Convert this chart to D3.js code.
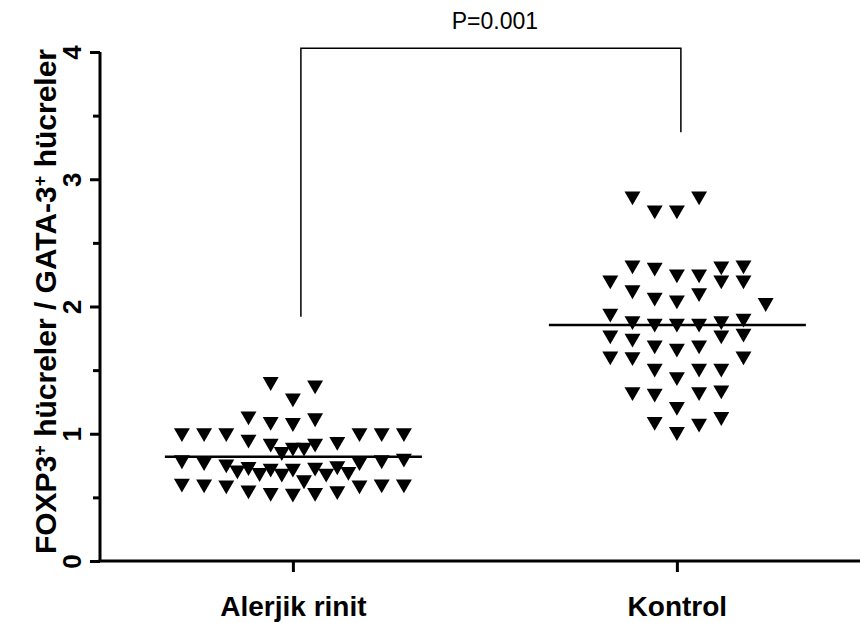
<!DOCTYPE html>
<meta charset="utf-8">
<title>FOXP3 / GATA-3</title>
<script src="https://cdn.jsdelivr.net/npm/d3@7"></script>
<style>
  body { margin: 0; background: #fff; }
  svg { font-family: "Liberation Sans", Arial, sans-serif; }
</style>
<body>
<svg></svg>
<script>
var width = 860,
    height = 623;

var groups = ["Alerjik rinit", "Kontrol"];

// column slot (half steps) and value
var alerjikCols = [-2, 2, 0, -4, -2, 0, 2, -10, -8, -6, 6, 8, 10, -4, -2, 2, 4, -1, 0, 1,
                   -10, -8, -6, 6, 8, 10, -5, -4, -3, -2, -1, 0, 2, 3, 4, 5, 1,
                   -10, -8, -6, 6, 8, 10, -4, -2, 0, 2, 4];
var alerjikVals = [1.409, 1.383, 1.281, 1.139, 1.095, 1.087, 1.124, 1.008, 1.008, 1.008, 1.008, 1.008, 1.008,
                   0.956, 0.925, 0.925, 0.938, 0.859, 0.894, 0.894,
                   0.794, 0.780, 0.762, 0.780, 0.794, 0.807,
                   0.715, 0.741, 0.694, 0.728, 0.689, 0.728, 0.736, 0.689, 0.747, 0.702, 0.637,
                   0.611, 0.605, 0.597, 0.597, 0.605, 0.605,
                   0.558, 0.537, 0.532, 0.537, 0.552];

var kontrolCols = [-4, 2, -2, 0, -4, -2, 0, 2, 4, 6, -6, 4, 6, -4, -2, 0, 2, 8, -6,
                   -4, -2, 0, 2, 4, 6, -6, -4, -2, 0, 2, 4, 6, -6, -4, 6,
                   -2, 2, 4, 0, -4, -2, 2, 4, 0, -2, 2, 4, 0];
var kontrolVals = [2.868, 2.868, 2.758, 2.758, 2.326, 2.308, 2.255, 2.255, 2.318, 2.326,
                   2.208, 2.208, 2.208, 2.130, 2.072, 2.051, 2.108, 2.030, 1.947,
                   1.888, 1.868, 1.868, 1.868, 1.888, 1.907,
                   1.776, 1.750, 1.697, 1.672, 1.697, 1.776, 1.789,
                   1.611, 1.605, 1.611,
                   1.514, 1.514, 1.514, 1.448,
                   1.330, 1.317, 1.330, 1.344, 1.213,
                   1.095, 1.082, 1.134, 1.016];

var medians = [0.82, 1.855];
var yTicks = [0, 1, 2, 3, 4];
var yMinor = [0.5, 1.5, 2.5, 3.5];
var pLabel = "P=0.001";
var bracket = [1.92, 4.03, 3.37]; // left end, top, right end

var svg = d3.select("svg")
    .attr("width", width)
    .attr("height", height);

var x = d3.scalePoint()
    .domain(groups)
    .range([100, 860])
    .padding(0.4896)
    .align(0.513);

var y = d3.scaleLinear()
    .domain([0, 4])
    .range([561, 52]);

var colStep = 11.1;

// y axis
var yAxis = svg.append("g")
    .attr("transform", "translate(100,0)")
    .call(d3.axisLeft(y).tickValues(yTicks).tickSize(10).tickSizeOuter(0).tickFormat(d3.format("d")));
yAxis.select(".domain").attr("stroke-width", 3).attr("d", "M0," + y(0) + "V" + y(4));
yAxis.selectAll(".tick line").attr("stroke-width", 3);
yAxis.selectAll(".tick text")
    .attr("x", 0).attr("y", 0).attr("dy", 0)
    .attr("transform", "translate(-19,0) rotate(-90)")
    .attr("text-anchor", "middle")
    .style("font-size", "26px")
    .style("font-weight", "bold")
    .style("font-family", "'Liberation Sans', Arial, sans-serif");

var yAxisMinor = svg.append("g")
    .attr("transform", "translate(100,0)")
    .call(d3.axisLeft(y).tickValues(yMinor).tickSize(7).tickFormat(""));
yAxisMinor.select(".domain").remove();
yAxisMinor.selectAll(".tick line").attr("stroke-width", 3);

// x axis
var xAxis = svg.append("g")
    .attr("transform", "translate(0," + y(0) + ")")
    .call(d3.axisBottom(x).tickSize(11).tickSizeOuter(0));
xAxis.select(".domain").attr("stroke-width", 3).attr("d", "M98.5,0H860");
xAxis.selectAll(".tick line").attr("stroke-width", 3);
xAxis.selectAll(".tick text")
    .attr("y", 55)
    .attr("dy", 0)
    .style("font-size", "28px")
    .style("font-weight", "bold")
    .style("font-family", "'Liberation Sans', Arial, sans-serif");

// y label
var ylab = svg.append("text")
    .attr("transform", "translate(56," + ((y(0) + y(4)) / 2 - 5) + ") rotate(-90)")
    .attr("text-anchor", "middle")
    .style("font-size", "30px")
    .style("font-weight", "bold");
ylab.append("tspan").text("FOXP3");
ylab.append("tspan").attr("dy", -10).style("font-size", "18px").text("+");
ylab.append("tspan").attr("dy", 10).text(" hücreler / GATA-3");
ylab.append("tspan").attr("dy", -10).style("font-size", "18px").text("+");
ylab.append("tspan").attr("dy", 10).text(" hücreler");

// points
var tri = d3.symbol().type(d3.symbolTriangle).size(110);

function drawGroup(name, cols, vals) {
  svg.append("g").selectAll("path")
    .data(vals)
    .enter().append("path")
    .attr("d", tri)
    .attr("fill", "#000")
    .attr("transform", function(d, i) {
      return "translate(" + (x(name) + cols[i] * colStep) + "," + y(d) + ") rotate(180)";
    });
}
drawGroup(groups[0], alerjikCols, alerjikVals);
drawGroup(groups[1], kontrolCols, kontrolVals);

// median lines
svg.append("g").selectAll("line")
    .data(medians)
    .enter().append("line")
    .attr("x1", function(d, i) { return x(groups[i]) - 128; })
    .attr("x2", function(d, i) { return x(groups[i]) + 129; })
    .attr("y1", function(d) { return y(d); })
    .attr("y2", function(d) { return y(d); })
    .attr("stroke", "#000")
    .attr("stroke-width", 2.5);

// significance bracket
var bx0 = x(groups[0]) + 8,
    bx1 = x(groups[1]) + 4;
svg.append("path")
    .attr("d", "M" + bx0 + "," + y(bracket[0]) + "V" + y(bracket[1]) + "H" + bx1 + "V" + y(bracket[2]))
    .attr("fill", "none")
    .attr("stroke", "#000")
    .attr("stroke-width", 1.5);

svg.append("text")
    .attr("x", (bx0 + bx1) / 2 + 4)
    .attr("y", 29)
    .attr("text-anchor", "middle")
    .style("font-size", "23px")
    .text(pLabel);
</script>
</body>
